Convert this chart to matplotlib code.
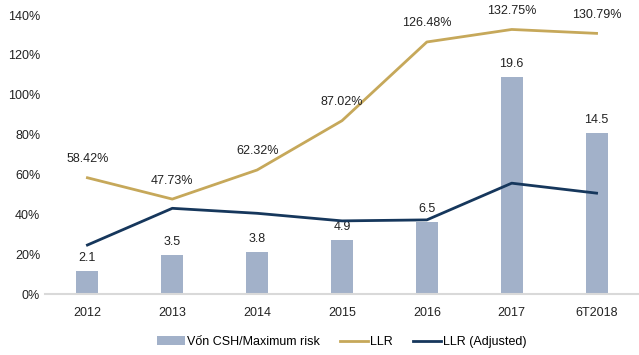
import numpy as np
import matplotlib.pyplot as plt
from matplotlib.patches import Patch
from matplotlib.lines import Line2D

plt.rcParams['font.family'] = ['Liberation Sans Narrow', 'Liberation Sans', 'DejaVu Sans']

# Dữ liệu
nam = ['2012', '2013', '2014', '2015', '2016', '2017', '6T2018']
von_csh = [2.1, 3.5, 3.8, 4.9, 6.5, 19.6, 14.5]
llr = [58.42, 47.73, 62.32, 87.02, 126.48, 132.75, 130.79]
llr_adj = [24.7, 43.1, 40.6, 36.8, 37.3, 55.7, 50.7]

mau_cot = '#A2B1C9'
mau_llr = '#C6A85A'
mau_adj = '#16375C'
fs = 9

fig = plt.figure(figsize=(6.39, 3.55), dpi=100)
ax = fig.add_axes([45 / 639, 1 - 294.3 / 355, 594 / 639, 279.3 / 355])
ax2 = ax.twinx()

x = np.arange(len(nam))

# Cột vốn CSH/Maximum risk trên trục phụ (ẩn)
ax2.bar(x, von_csh, width=0.26, color=mau_cot, zorder=1)
for xi, v in zip(x, von_csh):
    ax2.annotate(f'{v:.1f}', (xi, v), xytext=(0, 5), textcoords='offset points',
                 ha='center', va='bottom', fontsize=fs, color='#222222')
ax2.set_ylim(0, 25.15)
ax2.axis('off')

# Hai đường LLR
ax.set_zorder(ax2.get_zorder() + 1)
ax.patch.set_visible(False)
ax.plot(x, llr, color=mau_llr, lw=2)
ax.plot(x, llr_adj, color=mau_adj, lw=2)
for xi, v in zip(x, llr):
    ax.annotate(f'{v:.2f}%', (xi, v), xytext=(0, 9), textcoords='offset points',
                ha='center', va='bottom', fontsize=fs, color='#222222')

ax.set_xlim(-0.5, len(nam) - 0.5)
ax.set_ylim(0, 140)
ax.set_yticks(np.arange(0, 141, 20))
ax.set_yticklabels([f'{t}%' for t in range(0, 141, 20)])
ax.set_xticks(x)
ax.set_xticklabels(nam)
ax.tick_params(length=0, labelsize=fs, colors='#222222')
ax.tick_params(axis='x', pad=9)
for s in ['top', 'right', 'left']:
    ax.spines[s].set_visible(False)
ax.spines['bottom'].set_color('#D9D9D9')
ax.spines['bottom'].set_linewidth(1.5)

handles = [
    Patch(facecolor=mau_cot, label='Vốn CSH/Maximum risk'),
    Line2D([0], [0], color=mau_llr, lw=2, label='LLR'),
    Line2D([0], [0], color=mau_adj, lw=2, label='LLR (Adjusted)'),
]
fig.legend(handles=handles, loc='center', bbox_to_anchor=(342 / 639, 1 - 342 / 355),
           ncol=3, frameon=False, fontsize=fs, handlelength=2.2,
           handletextpad=0.2, columnspacing=1.6)

fig.savefig('out.png', dpi=100)
